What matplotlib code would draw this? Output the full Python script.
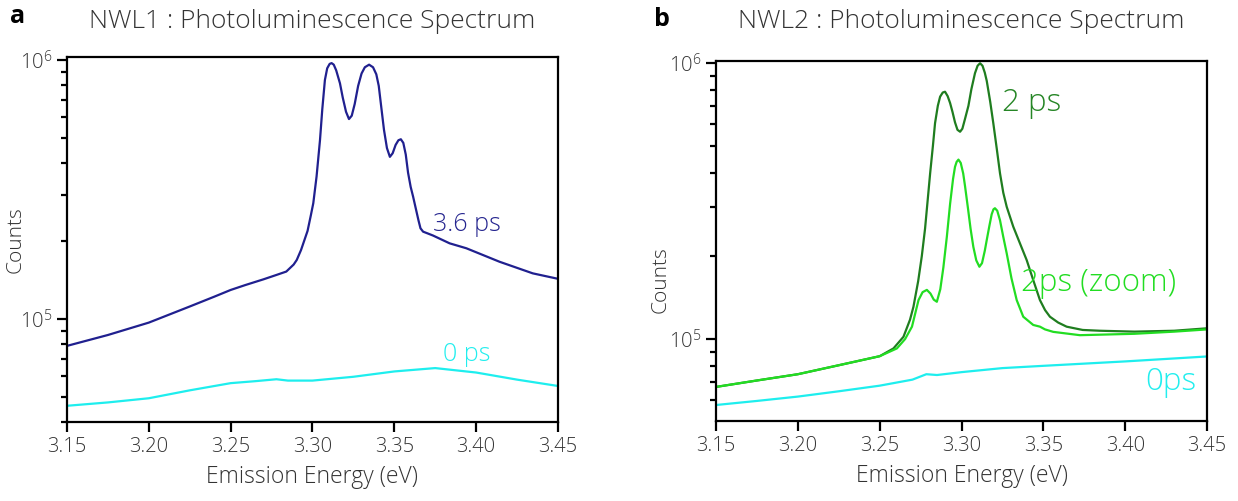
import matplotlib
matplotlib.use("Agg")
import matplotlib.pyplot as plt
from matplotlib.ticker import FixedLocator, FormatStrFormatter, NullFormatter, LogLocator

plt.rcParams['font.family'] = ['Open Sans', 'DejaVu Sans']

# ---- panel a : NWL1 ----
e_a_36 = [3.150, 3.175, 3.200, 3.225, 3.240, 3.250, 3.259, 3.270, 3.278, 3.284,
          3.2885, 3.2904, 3.293, 3.297, 3.299, 3.3005, 3.3025, 3.3046, 3.306, 3.3076,
          3.309, 3.3105, 3.3117, 3.313, 3.3145, 3.3168, 3.3185, 3.3205, 3.3223, 3.324,
          3.3258, 3.3279, 3.330, 3.332, 3.3346, 3.337, 3.339, 3.3405, 3.342, 3.3437,
          3.3455, 3.3473, 3.349, 3.3508, 3.3525, 3.354, 3.3555, 3.357, 3.3584, 3.360,
          3.3615, 3.363, 3.3648, 3.366, 3.3676, 3.3705, 3.3737, 3.3838, 3.394, 3.4143,
          3.4346, 3.450]
c_a_36 = [78700, 86700, 96800, 111700, 121900, 129400, 135200, 142200, 147900, 152400,
          162200, 169000, 184500, 218800, 251200, 279900, 354800, 490900, 645700, 837500,
          929000, 966100, 972700, 959400, 912000, 812800, 716100, 631000, 591600, 609500,
          676100, 794300, 887200, 937600, 959400, 937600, 881000, 794300, 660700, 537000,
          457100, 422700, 436500, 469900, 489800, 494300, 478600, 431500, 367300, 323600,
          296500, 269200, 239900, 223900, 217300, 213800, 209900, 195900, 187500, 166300,
          150000, 142900]

e_a_0 = [3.150, 3.175, 3.200, 3.225, 3.250, 3.265, 3.278, 3.285, 3.300, 3.325,
         3.350, 3.375, 3.400, 3.425, 3.450]
c_a_0 = [46200, 47600, 49400, 53000, 56500, 57500, 58500, 57800, 57800, 59800,
         62700, 64600, 62100, 58300, 55100]

# ---- panel b : NWL2 ----
e_b_2 = [3.150, 3.175, 3.200, 3.225, 3.250, 3.2584, 3.2645, 3.2685, 3.2706, 3.2735,
         3.2757, 3.2777, 3.2808, 3.2825, 3.2838, 3.2855, 3.2869, 3.2885, 3.2899, 3.2915,
         3.293, 3.2945, 3.296, 3.2975, 3.2991, 3.3005, 3.302, 3.3042, 3.306, 3.3082,
         3.3098, 3.3113, 3.3128, 3.3142, 3.3154, 3.3175, 3.3194, 3.3215, 3.3235, 3.3255,
         3.3276, 3.3316, 3.3358, 3.3398, 3.344, 3.3479, 3.351, 3.354, 3.359, 3.3642,
         3.374, 3.3845, 3.4056, 3.430, 3.450]
c_b_2 = [67100, 70800, 74600, 80400, 86700, 92500, 101900, 117500, 130900, 162200,
         199500, 251200, 398100, 501200, 605300, 699800, 755100, 781600, 787000, 758600,
         716100, 663700, 609500, 572800, 563600, 578100, 623700, 699800, 803500, 918300,
         977200, 997700, 977200, 922600, 861000, 724400, 605300, 489800, 398100, 338800,
         301300, 255300, 221300, 193200, 162200, 138400, 127400, 120500, 114800, 110900,
         107900, 107200, 106400, 107200, 109400]

e_b_zoom = [3.150, 3.175, 3.200, 3.225, 3.250, 3.2605, 3.2655, 3.2697, 3.2737, 3.2762,
            3.2788, 3.281, 3.283, 3.2849, 3.287, 3.2889, 3.291, 3.293, 3.2948, 3.296,
            3.297, 3.2981, 3.2995, 3.301, 3.3021, 3.304, 3.3055, 3.3072, 3.309, 3.3109,
            3.3125, 3.3142, 3.3154, 3.317, 3.3184, 3.3195, 3.3204, 3.3218, 3.3235, 3.3255,
            3.3276, 3.3305, 3.3337, 3.3377, 3.3438, 3.3479, 3.351, 3.356, 3.3723, 3.4056,
            3.430, 3.450]
c_b_zoom = [67100, 70800, 74600, 80400, 86700, 92500, 100000, 110900, 138400, 147900,
            150700, 146200, 139000, 136500, 151400, 182000, 234400, 309000, 380200, 420700,
            438500, 446700, 434500, 398100, 358900, 295100, 251200, 215800, 192800, 182800,
            188400, 208900, 228600, 257000, 283100, 295100, 297800, 291700, 269200, 234400,
            204200, 166000, 138400, 120500, 112500, 110900, 108400, 106200, 103300, 104500,
            106400, 108400]

e_b_0 = [3.150, 3.175, 3.200, 3.225, 3.250, 3.270, 3.2785, 3.285, 3.300, 3.325,
         3.350, 3.400, 3.450]
c_b_0 = [57700, 59700, 61900, 64700, 67800, 71300, 74600, 74100, 75900, 78500,
         80000, 83000, 86500]

x_ticks = [3.15, 3.20, 3.25, 3.30, 3.35, 3.40, 3.45]

NAVY = '#20208f'
CYAN = '#1eeeee'
DGREEN = '#1f7d1f'
LGREEN = '#22dd22'
TXT = '#333333'
LIGHT = 'light'


def style_axes(ax, ylim):
    ax.set_yscale('log')
    ax.set_xlim(3.15, 3.45)
    ax.set_ylim(*ylim)
    ax.xaxis.set_major_locator(FixedLocator(x_ticks))
    ax.xaxis.set_major_formatter(FormatStrFormatter('%.2f'))
    ax.yaxis.set_major_locator(LogLocator(base=10))
    ax.yaxis.set_minor_locator(LogLocator(base=10, subs=range(2, 10)))
    ax.yaxis.set_minor_formatter(NullFormatter())
    for s in ax.spines.values():
        s.set_linewidth(1.6)
    ax.tick_params(which='major', direction='out', length=7.5, width=1.6,
                   labelsize=14.5, labelcolor=TXT, pad=3)
    ax.tick_params(which='minor', direction='out', length=4.5, width=1.6)
    ax.tick_params(top=False, right=False, which='both')
    for lab in ax.get_xticklabels() + ax.get_yticklabels():
        lab.set_fontweight(LIGHT)
    ax.set_xlabel('Emission Energy (eV)', fontsize=16.5, color=TXT, labelpad=6,
                  fontweight=LIGHT)
    ax.set_ylabel('Counts', fontsize=15, color=TXT, fontweight=LIGHT)


fig = plt.figure(figsize=(12.38, 5.01), dpi=100)

ax1 = fig.add_axes([0.0541, 0.1577, 0.3966, 0.7285])
ax1.plot(e_a_36, c_a_36, color=NAVY, lw=1.6)
ax1.plot(e_a_0, c_a_0, color=CYAN, lw=1.6)
style_axes(ax1, (4.0e4, 1.027e6))
ax1.yaxis.set_label_coords(-0.085, 0.5)
ax1.text(3.3735, 2.31e5, '3.6 ps', color='#25258f', fontsize=18, ha='left',
         va='center', fontweight=LIGHT)
ax1.text(3.394, 7.26e4, '0 ps', color='#22eeee', fontsize=18, ha='center',
         va='center', fontweight=LIGHT)

ax2 = fig.add_axes([0.5784, 0.1597, 0.3966, 0.7186])
ax2.plot(e_b_2, c_b_2, color=DGREEN, lw=1.6)
ax2.plot(e_b_zoom, c_b_zoom, color=LGREEN, lw=1.6)
ax2.plot(e_b_0, c_b_0, color=CYAN, lw=1.6)
style_axes(ax2, (5.05e4, 1.017e6))
ax2.yaxis.set_label_coords(-0.092, 0.394)
ax2.text(3.3245, 7.16e5, '2 ps', color='#268626', fontsize=22.5, ha='left',
         va='center', fontweight=LIGHT)
ax2.text(3.3363, 1.6e5, '2ps (zoom)', color='#22dd22', fontsize=22.5, ha='left',
         va='center', fontweight=LIGHT)
ax2.text(3.428, 7.0e4, '0ps', color='#22eeee', fontsize=22.5, ha='center',
         va='center', fontweight=LIGHT)

fig.text(0.2524, 0.958, 'NWL1 : Photoluminescence Spectrum', fontsize=19,
         color=TXT, ha='center', va='center', fontweight=LIGHT)
fig.text(0.7767, 0.958, 'NWL2 : Photoluminescence Spectrum', fontsize=19,
         color=TXT, ha='center', va='center', fontweight=LIGHT)
fig.text(0.008, 0.968, 'a', fontsize=18, fontweight='bold', ha='left', va='center')
fig.text(0.528, 0.962, 'b', fontsize=18, fontweight='bold', ha='left', va='center')

fig.savefig('out.png', dpi=100)
